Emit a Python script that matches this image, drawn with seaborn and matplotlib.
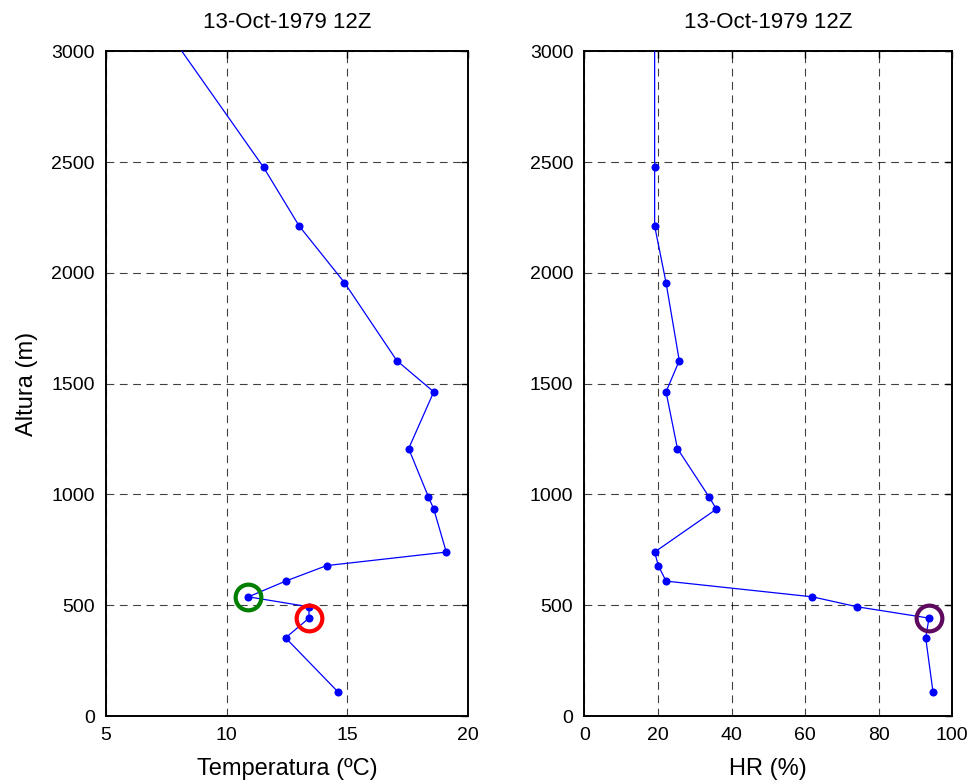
import matplotlib
matplotlib.use("Agg")
import matplotlib.pyplot as plt
import seaborn as sns
import pandas as pd
import numpy as np

# ---- data ----
altura = [107, 353, 442, 493, 538, 609, 679, 740, 934, 989, 1207, 1463, 1604, 1956, 2212, 2476, 3200]
temperatura = [14.63, 12.44, 13.41, 13.41, 10.90, 12.44, 14.14, 19.10, 18.58, 18.36, 17.54, 18.58, 17.05, 14.88, 13.00, 11.53, 6.85]
hr = [94.8, 92.8, 93.7, 74.2, 62.0, 22.2, 20.1, 19.1, 35.9, 33.9, 25.3, 22.2, 25.8, 22.2, 19.1, 19.1, 19.1]

titulo = "13-Oct-1979 12Z"
temp_ticks = [5, 10, 15, 20]
hr_ticks = [0, 20, 40, 60, 80, 100]
alt_ticks = [0, 500, 1000, 1500, 2000, 2500, 3000]

# highlighted levels (index into the arrays above)
circ_temp_green = 4
circ_temp_red = 2
circ_hr_purple = 2

df = pd.DataFrame({"altura": altura, "temperatura": temperatura, "hr": hr})

sns.set_style("white")
plt.rcParams["font.family"] = ["Liberation Sans", "DejaVu Sans"]
plt.rcParams["text.color"] = "black"
plt.rcParams["axes.labelcolor"] = "black"
plt.rcParams["xtick.color"] = "black"
plt.rcParams["ytick.color"] = "black"

fig = plt.figure(figsize=(9.73, 7.83), dpi=100)
ax1 = fig.add_axes([0.109, 0.0855, 0.372, 0.849])
ax2 = fig.add_axes([0.6006, 0.0855, 0.378, 0.849])

for ax, col, xt, xlim, xlabel in [
    (ax1, "temperatura", temp_ticks, (5, 20), "Temperatura (ºC)"),
    (ax2, "hr", hr_ticks, (0, 100), "HR (%)"),
]:
    sns.lineplot(data=df, x=col, y="altura", sort=False, estimator=None,
                 ax=ax, color="blue", linewidth=0.9, marker="o",
                 markersize=5.8, markeredgewidth=0, markerfacecolor="blue",
                 zorder=3)
    ax.set_xlim(*xlim)
    ax.set_ylim(0, 3000)
    ax.set_xticks(xt)
    ax.set_yticks(alt_ticks)
    ax.set_xticklabels([str(v) for v in xt])
    ax.set_yticklabels([str(v) for v in alt_ticks])
    ax.grid(True, color="black", linestyle=(0, (7, 5)), linewidth=0.8, alpha=0.75)
    ax.tick_params(direction="in", length=5, width=1, top=True, right=True,
                   labelsize=14, pad=8, colors="black")
    for s in ax.spines.values():
        s.set_color("black")
        s.set_linewidth(1.4)
    ax.set_title(titulo, fontsize=16, pad=17, color="black")
    ax.set_xlabel(xlabel, fontsize=17, labelpad=10, color="black")
    ax.set_ylabel("")

ax1.set_ylabel("Altura (m)", fontsize=17, labelpad=10, color="black")

# highlight circles
ax1.plot([temperatura[circ_temp_green]], [altura[circ_temp_green]], marker="o",
         markersize=18.5, markerfacecolor="none", markeredgecolor="#007f00",
         markeredgewidth=3, linestyle="none", zorder=4)
ax1.plot([temperatura[circ_temp_red]], [altura[circ_temp_red]], marker="o",
         markersize=18.5, markerfacecolor="none", markeredgecolor="red",
         markeredgewidth=3, linestyle="none", zorder=4)
ax2.plot([hr[circ_hr_purple]], [altura[circ_hr_purple]], marker="o",
         markersize=18.5, markerfacecolor="none", markeredgecolor="#5e0a5e",
         markeredgewidth=3, linestyle="none", zorder=4)

fig.savefig("out.png", dpi=100)
